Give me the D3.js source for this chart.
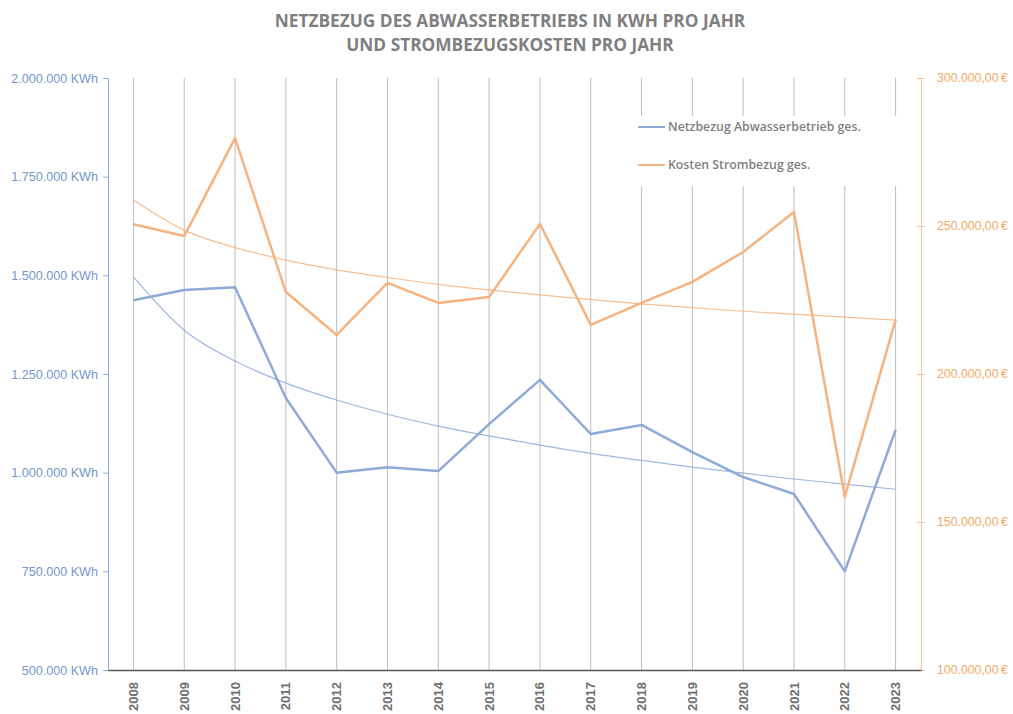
<!DOCTYPE html>
<html lang="de">
<head>
<meta charset="UTF-8" />
<title>Netzbezug und Strombezugskosten</title>
<script src="https://d3js.org/d3.v7.min.js"></script>
<style>
  body { margin: 0; background: #fff; }
  svg { display: block; }
</style>
</head>
<body>
<script>
var years = ["2008","2009","2010","2011","2012","2013","2014","2015",
             "2016","2017","2018","2019","2020","2021","2022","2023"];

// kWh pro Jahr
var netzbezug = [1437000, 1463000, 1470000, 1189000, 1000000, 1014000, 1004000, 1123000,
                 1235000, 1098000, 1121000, 1052000, 989000, 946000, 750000, 1108000];
// Trendlinie (logarithmisch)
var netzTrend = [1496000, 1361000, 1283000, 1227000, 1184000, 1148000, 1118000, 1093000,
                 1070000, 1049000, 1031000, 1014000, 999000, 984000, 971000, 958000];

// Euro pro Jahr
var kosten = [250600, 246600, 279700, 227700, 213200, 230800, 224000, 226000,
              250700, 216600, 224000, 231100, 241200, 254700, 158500, 218300];
var kostenTrend = [258800, 248600, 242700, 238500, 235200, 232600, 230300, 228400,
                   226700, 225100, 223700, 222400, 221200, 220200, 219200, 218200];

var kwhTicks = [500000, 750000, 1000000, 1250000, 1500000, 1750000, 2000000];
var euroTicks = [100000, 150000, 200000, 250000, 300000];

var w = 1013, h = 714;
var mLeft = 108, mRight = 921, mTop = 78, mBottom = 670;

var blue = "#8eaad8", orange = "#f6b37f";
var blueText = "#7397c9", orangeText = "#f0a868";

var svg = d3.select("body").append("svg")
    .attr("width", w)
    .attr("height", h);

var x = d3.scaleBand().domain(years).range([mLeft, mRight]);
var yL = d3.scaleLinear().domain([500000, 2000000]).range([mBottom, mTop]);
var yR = d3.scaleLinear().domain([100000, 300000]).range([mBottom, mTop]);

var fmtKwh = function(v) { return d3.format(",")(v).replace(/,/g, ".") + " KWh"; };
var fmtEuro = function(v) { return d3.format(",.2f")(v).replace(/,/g, "#").replace(".", ",").replace(/#/g, ".") + "\u2009€"; };

// title
var title = svg.append("text")
    .attr("x", 510).attr("y", 27)
    .attr("text-anchor", "middle")
    .style("font-family", "'Open Sans', sans-serif")
    .style("font-weight", "bold")
    .style("font-size", "17.3px")
    .style("fill", "#7f7f7f");
title.append("tspan").attr("x", 510).attr("dy", 0).text("NETZBEZUG DES ABWASSERBETRIEBS IN KWH PRO JAHR");
title.append("tspan").attr("x", 510).attr("dy", 24).text("UND STROMBEZUGSKOSTEN PRO JAHR");

// vertical gridlines per year
svg.append("g").selectAll("line")
    .data(years)
    .enter().append("line")
    .attr("x1", function(d) { return x(d) + x.bandwidth() / 2; })
    .attr("x2", function(d) { return x(d) + x.bandwidth() / 2; })
    .attr("y1", mTop)
    .attr("y2", mBottom)
    .attr("stroke", "#bdbdbd")
    .attr("stroke-width", 1);

// left axis
var axL = svg.append("g")
    .attr("transform", "translate(" + mLeft + ",0)")
    .call(d3.axisLeft(yL).tickValues(kwhTicks).tickFormat(fmtKwh).tickSize(5).tickPadding(5));
axL.select(".domain").attr("stroke", blue);
axL.selectAll(".tick line").attr("stroke", blue);
axL.selectAll(".tick text")
    .style("font-family", "'Liberation Sans', Arial, sans-serif")
    .style("font-size", "12.6px")
    .style("fill", blueText);

// right axis
var axR = svg.append("g")
    .attr("transform", "translate(" + mRight + ",0)")
    .call(d3.axisRight(yR).tickValues(euroTicks).tickFormat(fmtEuro).tickSizeInner(4).tickSizeOuter(0).tickPadding(12));
axR.select(".domain").attr("stroke", "#f2c39c");
axR.selectAll(".tick line").attr("stroke", "#f2c39c").attr("x1", -4);
axR.selectAll(".tick text")
    .style("font-family", "'Liberation Sans', Arial, sans-serif")
    .style("font-size", "12.3px")
    .style("fill", orangeText);

// bottom axis
var axB = svg.append("g")
    .attr("transform", "translate(0," + mBottom + ")")
    .call(d3.axisBottom(x).tickSize(0).tickPadding(0));
axB.select(".domain").attr("stroke", "#555").attr("stroke-width", 1.5);
axB.selectAll(".tick text")
    .attr("transform", "rotate(-90)")
    .attr("x", -12)
    .attr("y", 0)
    .attr("dy", "0.35em")
    .attr("text-anchor", "end")
    .style("font-family", "'Liberation Sans', Arial, sans-serif")
    .style("font-weight", "bold")
    .style("font-size", "13px")
    .style("fill", "#707070");

var cx = function(d, i) { return x(years[i]) + x.bandwidth() / 2; };

// legend box (covers gridlines)
svg.append("rect")
    .attr("x", 628).attr("y", 116)
    .attr("width", 288).attr("height", 70)
    .attr("fill", "#fff");

var trendCurve = d3.curveMonotoneX;

// trend lines
svg.append("path")
    .datum(kostenTrend)
    .attr("fill", "none")
    .attr("stroke", orange)
    .attr("stroke-width", 1.2)
    .attr("stroke-opacity", 0.85)
    .attr("d", d3.line().x(cx).y(function(d) { return yR(d); }).curve(trendCurve));

svg.append("path")
    .datum(netzTrend)
    .attr("fill", "none")
    .attr("stroke", blue)
    .attr("stroke-width", 1.2)
    .attr("stroke-opacity", 0.85)
    .attr("d", d3.line().x(cx).y(function(d) { return yL(d); }).curve(trendCurve));

// data lines
svg.append("path")
    .datum(kosten)
    .attr("fill", "none")
    .attr("stroke", orange)
    .attr("stroke-width", 2.5)
    .attr("stroke-linejoin", "round")
    .attr("d", d3.line().x(cx).y(function(d) { return yR(d); }));

svg.append("path")
    .datum(netzbezug)
    .attr("fill", "none")
    .attr("stroke", blue)
    .attr("stroke-width", 2.5)
    .attr("stroke-linejoin", "round")
    .attr("d", d3.line().x(cx).y(function(d) { return yL(d); }));

// legend
var legend = [
    { name: "Netzbezug Abwasserbetrieb ges.", color: blue, y: 127 },
    { name: "Kosten Strombezug ges.", color: orange, y: 165 }
];
var lg = svg.append("g").selectAll("g")
    .data(legend)
    .enter().append("g");
lg.append("line")
    .attr("x1", 638).attr("x2", 665)
    .attr("y1", function(d) { return d.y; })
    .attr("y2", function(d) { return d.y; })
    .attr("stroke", function(d) { return d.color; })
    .attr("stroke-width", 2);
lg.append("text")
    .attr("x", 668)
    .attr("y", function(d) { return d.y; })
    .attr("dy", "0.35em")
    .style("font-family", "'Open Sans', sans-serif")
    .style("font-weight", "600")
    .style("font-size", "12.3px")
    .style("fill", "#7f7f7f")
    .text(function(d) { return d.name; });
</script>
</body>
</html>
